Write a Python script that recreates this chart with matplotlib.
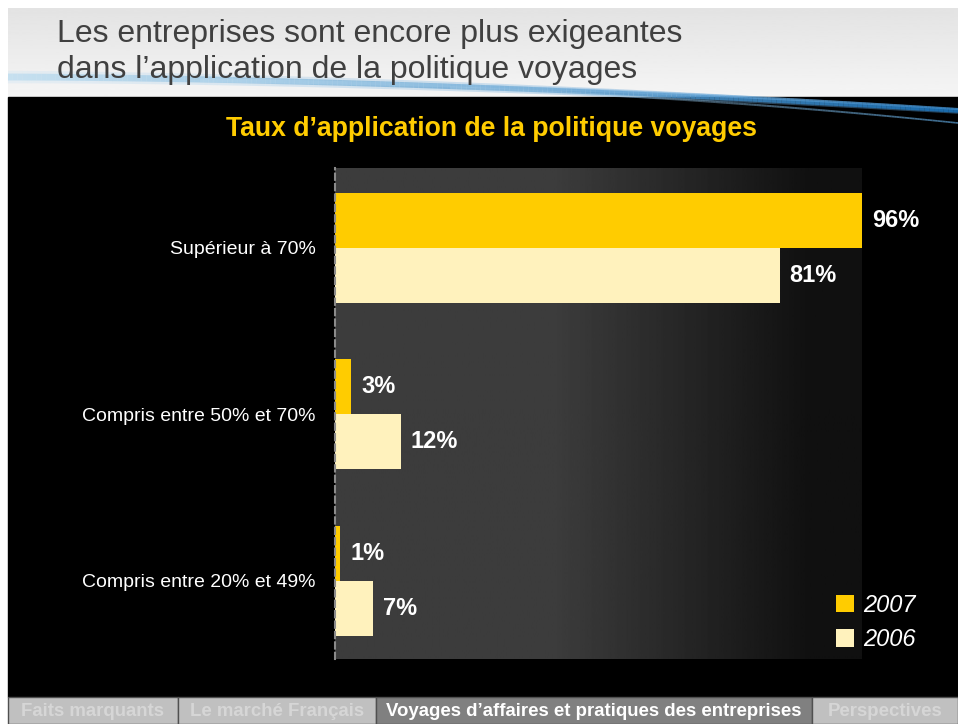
import numpy as np
import matplotlib
matplotlib.use("Agg")
import matplotlib.pyplot as plt
from matplotlib.patches import Rectangle, Patch
from matplotlib.collections import LineCollection

plt.rcParams['font.family'] = ['Liberation Sans', 'DejaVu Sans']

# data
categories = ['Supérieur à 70%', 'Compris entre 50% et 70%', 'Compris entre 20% et 49%']
values_2007 = [96, 3, 1]
values_2006 = [81, 12, 7]
series_labels = ['2007', '2006']
tabs = ['Faits marquants', 'Le marché Français',
        'Voyages d\u2019affaires et pratiques des entreprises', 'Perspectives']
active_tab = 2

YELLOW = '#FFCC00'
CREAM = '#FFF2BD'
W, H = 958, 724


def fx(x):
    return x / W


def fy(y):
    return 1 - y / H


fig = plt.figure(figsize=(W / 100, H / 100), dpi=100)
fig.patch.set_facecolor('white')

# slide background drawn in pixel units
bg = fig.add_axes([0, 0, 1, 1])
bg.set_xlim(0, W)
bg.set_ylim(H, 0)
bg.axis('off')

# light header band
head = np.linspace(0.89, 0.96, 64).reshape(-1, 1)
bg.imshow(head, cmap='gray', vmin=0, vmax=1, aspect='auto',
          extent=(8, W, 97, 8), zorder=0)

# black panel
bg.add_patch(Rectangle((8, 97), W - 8, 600, color='black', zorder=1))

# blue swoosh across the header
def swoosh(y0, dy, p, x_start, lw, c0, c1, a0, a1):
    xs = np.linspace(x_start, W, 200)
    ys = y0 + dy * (xs / W) ** p
    pts = np.column_stack([xs, ys]).reshape(-1, 1, 2)
    segs = np.concatenate([pts[:-1], pts[1:]], axis=1)
    t = np.linspace(0, 1, len(segs))
    c0 = np.array(matplotlib.colors.to_rgb(c0))
    c1 = np.array(matplotlib.colors.to_rgb(c1))
    cols = [(*(c0 + (c1 - c0) * ti), a0 + (a1 - a0) * ti) for ti in t]
    lws = lw[0] + (lw[1] - lw[0]) * t
    bg.add_collection(LineCollection(segs, colors=cols, linewidths=lws, zorder=2))

# soft glow first, then the sharper strands
swoosh(77, 34, 1.7, 8, (9, 4), '#cfe6f5', '#4a93d0', 0.35, 0.45)
swoosh(77, 34, 1.7, 8, (5, 2.5), '#a8d4ee', '#1a6db0', 0.5, 0.95)
swoosh(79, 30, 2.0, 200, (3, 1.5), '#c4e2f4', '#3d8ccc', 0.3, 0.75)
swoosh(80, 43, 2.3, 450, (2, 1.2), '#c4e2f4', '#5a9fd4', 0.15, 0.7)

# header title
fig.text(fx(57), fy(34), 'Les entreprises sont encore plus exigeantes',
         fontsize=23, color='#404040', va='center', ha='left', zorder=5)
fig.text(fx(57), fy(70), 'dans l\u2019application de la politique voyages',
         fontsize=23, color='#404040', va='center', ha='left', zorder=5)

# chart title
fig.text(fx(492), fy(129), 'Taux d\u2019application de la politique voyages',
         fontsize=19.2, fontweight='bold', color=YELLOW, va='center', ha='center')

# navigation bar
edges = [8, 178, 376, 812, W]
for i, name in enumerate(tabs):
    x0, x1 = edges[i], edges[i + 1]
    active = i == active_tab
    bg.add_patch(Rectangle((x0, 697), x1 - x0, H - 697,
                           facecolor='#808080' if active else '#c0c0c0',
                           edgecolor='#505050', lw=1, zorder=3))
    bg.text((x0 + x1) / 2, 711, name, fontsize=13.4, fontweight='bold',
            color='white' if active else '#d6d6d6', ha='center', va='center',
            zorder=4, clip_on=True)

# bar chart
ax = fig.add_axes([fx(335), fy(659), fx(862) - fx(335), (659 - 168) / H])
ax.set_facecolor('black')
xmax = 96
ylim = (2.47, -0.48)

grad = np.full(300, 0.235)
f = np.linspace(0, 1, 300)
mask = (f > 0.42) & (f <= 0.9)
grad[mask] = 0.235 - (0.235 - 0.065) * (f[mask] - 0.42) / 0.48
grad[f > 0.9] = 0.065
ax.imshow(grad.reshape(1, -1), cmap='gray', vmin=0, vmax=1, aspect='auto',
          extent=(0, xmax, ylim[0], ylim[1]), zorder=0)

y = np.arange(len(categories))
h = 0.331
ax.barh(y - h / 2, values_2007, height=h, color=YELLOW, zorder=2)
ax.barh(y + h / 2, values_2006, height=h, color=CREAM, zorder=2)

for yi, v in zip(y - h / 2, values_2007):
    ax.annotate(f'{v}%', xy=(v, yi), xytext=(7, 0), textcoords='offset points',
                ha='left', va='center', color='white', fontsize=17,
                fontweight='bold', annotation_clip=False)
for yi, v in zip(y + h / 2, values_2006):
    ax.annotate(f'{v}%', xy=(v, yi), xytext=(7, 0), textcoords='offset points',
                ha='left', va='center', color='white', fontsize=17,
                fontweight='bold', annotation_clip=False)

ax.set_xlim(0, xmax)
ax.set_ylim(*ylim)
ax.set_yticks(y)
ax.set_yticklabels(categories)
ax.tick_params(axis='y', length=0, pad=14, labelcolor='white', labelsize=14)
ax.set_xticks([])
for side in ['top', 'right', 'bottom']:
    ax.spines[side].set_visible(False)
ax.spines['left'].set_color('#8a8a8a')
ax.spines['left'].set_linestyle((0, (3, 2)))
ax.spines['left'].set_linewidth(1.5)
ax.spines['left'].set_zorder(3)

fig.legend(handles=[Patch(facecolor=YELLOW), Patch(facecolor=CREAM)],
           labels=series_labels, loc='upper left',
           bbox_to_anchor=(fx(836), fy(594)), frameon=False,
           prop={'style': 'italic', 'size': 17}, labelcolor='white',
           handlelength=0.75, handleheight=0.75, handletextpad=0.4,
           labelspacing=0.48, borderpad=0, borderaxespad=0)

fig.savefig('out.png', dpi=100, facecolor=fig.get_facecolor())
